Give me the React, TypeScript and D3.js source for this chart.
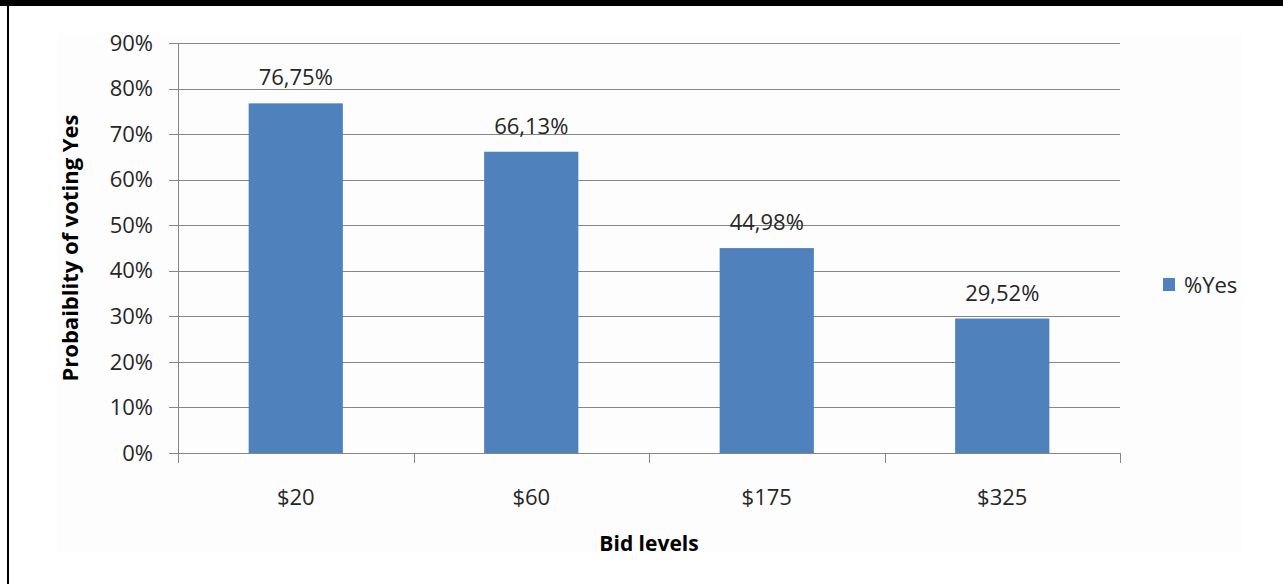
import React from "react";
import * as d3 from "d3";

const categories = ["$20", "$60", "$175", "$325"];
const yesValues = [76.75, 66.13, 44.98, 29.52];
const yesLabels = ["76,75%", "66,13%", "44,98%", "29,52%"];
const yTicks = [0, 10, 20, 30, 40, 50, 60, 70, 80, 90];
const seriesName = "%Yes";
const xTitle = "Bid levels";
const yTitle = "Probaiblity of voting Yes";

const W = 1283;
const H = 584;
const FONT = "'Open Sans', 'Noto Sans', sans-serif";

export default function App() {
  const left = 178;
  const right = 1120;
  const top = 43;
  const bottom = 453;
  const x = d3.scaleBand<string>().domain(categories).range([left, right]).paddingInner(0).paddingOuter(0);
  const y = d3.scaleLinear().domain([0, 90]).range([bottom, top]);
  const barW = x.bandwidth() * 0.4;
  const boundaries = d3.range(categories.length + 1).map((i) => left + i * x.step());

  return (
    <svg width={W} height={H} style={{ position: "absolute", left: 0, top: 0, background: "#fff" }}>
      <rect x={0} y={0} width={W} height={H} fill="#fff" />
      <rect x={0} y={0} width={W} height={6} fill="#000" />
      <rect x={7} y={0} width={2} height={H} fill="#000" />
      <rect x={58} y={33} width={1183} height={519} fill="#fdfdfd" />
      {yTicks.map((t) => (
        <g key={t}>
          <line x1={left - 9} x2={right} y1={Math.round(y(t)) + 0.5} y2={Math.round(y(t)) + 0.5} stroke="#868686" strokeWidth={1} />
          <text x={153} y={y(t)} dy="0.35em" textAnchor="end" fontFamily={FONT} fontSize={22} fill="#262626">
            {t}%
          </text>
        </g>
      ))}
      <line x1={left + 0.5} x2={left + 0.5} y1={top} y2={bottom} stroke="#868686" strokeWidth={1} />
      {boundaries.map((b, i) => (
        <line key={i} x1={Math.round(b) + 0.5} x2={Math.round(b) + 0.5} y1={bottom} y2={bottom + 10} stroke="#868686" strokeWidth={1} />
      ))}
      {categories.map((c, i) => {
        const cx = (x(c) as number) + x.bandwidth() / 2;
        return (
          <g key={c}>
            <rect x={cx - barW / 2} y={y(yesValues[i])} width={barW} height={y(0) - y(yesValues[i])} fill="#4f81bd" />
            <text x={cx} y={y(yesValues[i]) - 18} textAnchor="middle" fontFamily={FONT} fontSize={22} fill="#262626">
              {yesLabels[i]}
            </text>
            <text x={cx} y={505} textAnchor="middle" fontFamily={FONT} fontSize={22} fill="#262626">
              {c}
            </text>
          </g>
        );
      })}
      <text x={(left + right) / 2} y={551} textAnchor="middle" fontFamily={FONT} fontSize={21} fontWeight="bold" fill="#000">
        {xTitle}
      </text>
      <text transform={`translate(78,${(top + bottom) / 2}) rotate(-90)`} textAnchor="middle" fontFamily={FONT} fontSize={22} fontWeight="bold" fill="#000">
        {yTitle}
      </text>
      <rect x={1163} y={278} width={12} height={13} fill="#4f81bd" />
      <text x={1184} y={285} dy="0.35em" fontFamily={FONT} fontSize={22} fill="#262626">
        {seriesName}
      </text>
    </svg>
  );
}
